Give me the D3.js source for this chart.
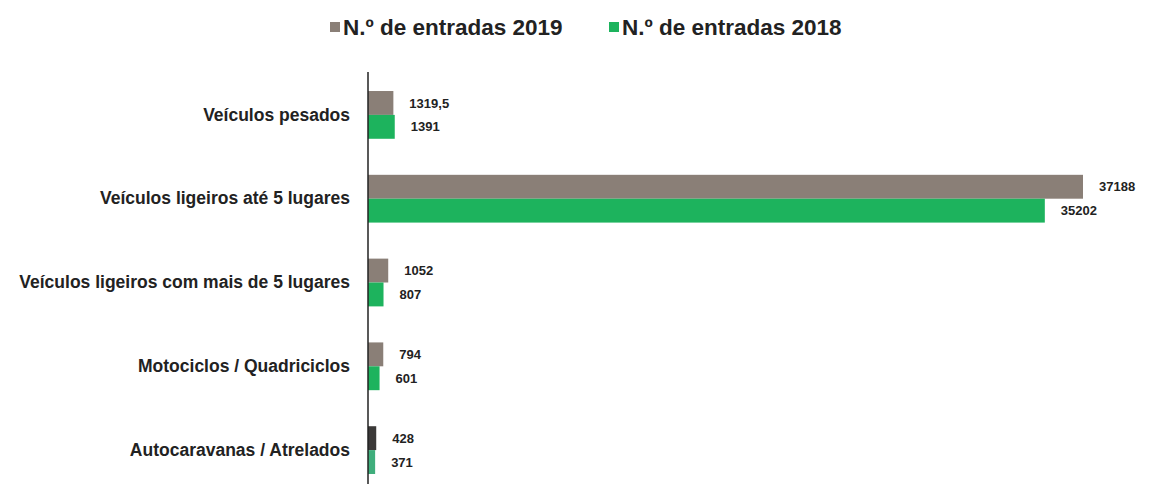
<!DOCTYPE html>
<html lang="pt">
<head>
<meta charset="UTF-8">
<title>N.º de entradas</title>
<script src="https://cdn.jsdelivr.net/npm/d3@7"></script>
<style>
  body { margin: 0; background: #fff; }
  svg text { font-family: Arial, "Liberation Sans", Helvetica, sans-serif; font-weight: bold; fill: #222; }
</style>
</head>
<body>
<script>
var categories = ["Veículos pesados", "Veículos ligeiros até 5 lugares",
  "Veículos ligeiros com mais de 5 lugares", "Motociclos / Quadriciclos",
  "Autocaravanas / Atrelados"];
var values2019 = [1319.5, 37188, 1052, 794, 428];
var values2018 = [1391, 35202, 807, 601, 371];
var labels2019 = ["1319,5", "37188", "1052", "794", "428"];
var labels2018 = ["1391", "35202", "807", "601", "371"];
var seriesNames = ["N.º de entradas 2019", "N.º de entradas 2018"];

var w = 1150, h = 484;
var x0 = 368;

var svg = d3.select("body").append("svg")
  .attr("width", w).attr("height", h);

var xScale = d3.scaleLinear().domain([0, 37188]).range([x0, 1083]);
var yScale = d3.scaleBand().domain(categories).range([73, 492])
  .paddingInner(0.43).paddingOuter(0.215);
var sub = d3.scaleBand().domain([0, 1]).range([0, yScale.bandwidth()]);

// colours, last grey bar in the scan is darker
var col2019 = ["#8a7f77", "#8a7f77", "#8a7f77", "#8a7f77", "#3b3938"];
var col2018 = ["#1db35d", "#1db35d", "#1db35d", "#1db35d", "#3fae7c"];

var series = [
  { vals: values2019, labs: labels2019, cols: col2019, k: 0 },
  { vals: values2018, labs: labels2018, cols: col2018, k: 1 }
];

series.forEach(function(s) {
  svg.selectAll("rect.s" + s.k)
    .data(categories)
    .enter().append("rect")
    .attr("class", "s" + s.k)
    .attr("x", x0)
    .attr("y", function(d) { return yScale(d) + sub(s.k); })
    .attr("width", function(d, i) { return xScale(s.vals[i]) - x0; })
    .attr("height", sub.bandwidth())
    .attr("fill", function(d, i) { return s.cols[i]; });

  svg.selectAll("text.l" + s.k)
    .data(categories)
    .enter().append("text")
    .attr("class", "l" + s.k)
    .attr("x", function(d, i) { return xScale(s.vals[i]) + 16; })
    .attr("y", function(d) { return yScale(d) + sub(s.k) + sub.bandwidth() / 2; })
    .attr("dy", "0.35em")
    .style("font-size", "13px")
    .text(function(d, i) { return s.labs[i]; });
});

// y axis
var yAxis = svg.append("g")
  .attr("transform", "translate(" + x0 + ",0)")
  .call(d3.axisLeft(yScale).tickSize(0).tickPadding(18));
yAxis.attr("font-family", null);
yAxis.select(".domain").attr("stroke", "#222").attr("stroke-width", 1.5)
  .attr("d", "M0,72V484");
yAxis.selectAll(".tick text")
  .style("font-size", "17.5px")
  .attr("fill", "#222");

// legend
var legX = [330, 609];
var leg = svg.selectAll("g.leg")
  .data(seriesNames)
  .enter().append("g")
  .attr("transform", function(d, i) { return "translate(" + legX[i] + ",27)"; });
leg.append("rect")
  .attr("x", 0).attr("y", -5).attr("width", 10).attr("height", 10)
  .attr("fill", function(d, i) { return i == 0 ? "#8a7f77" : "#1db35d"; });
leg.append("text")
  .attr("x", 13).attr("dy", "0.35em")
  .style("font-size", "22.5px")
  .text(function(d) { return d; });
</script>
</body>
</html>
